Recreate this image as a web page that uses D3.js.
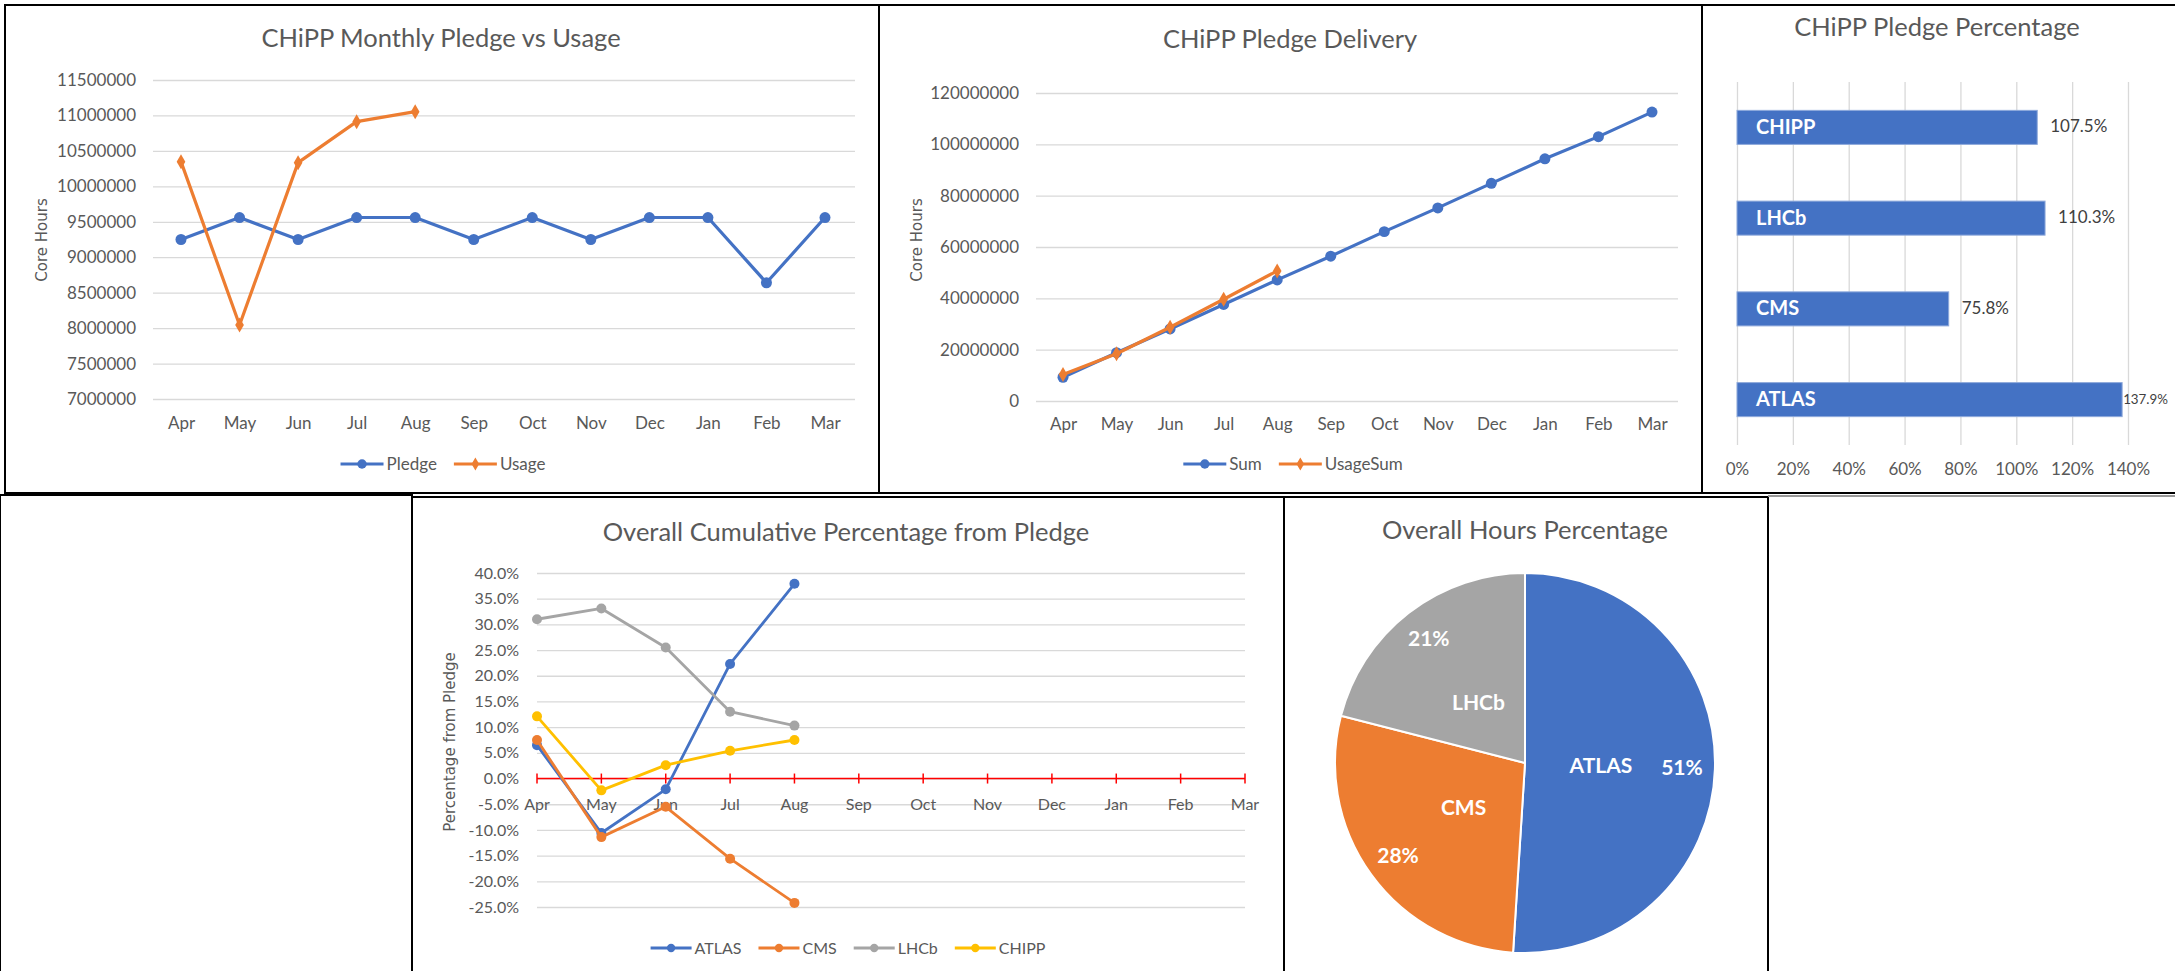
<!DOCTYPE html>
<html>
<head>
<meta charset="utf-8">
<script src="https://cdn.jsdelivr.net/npm/d3@7"></script>
<style>
  body { margin: 0; background: #fff; }
</style>
</head>
<body>
<svg id="canvas" width="2175" height="971"></svg>
<script>
// months of the financial year
let months = ['Apr', 'May', 'Jun', 'Jul', 'Aug', 'Sep', 'Oct', 'Nov', 'Dec', 'Jan', 'Feb', 'Mar'];

// monthly pledge vs usage (core hours)
let pledge = [9250000, 9560000, 9250000, 9560000, 9560000, 9250000, 9560000, 9250000, 9560000, 9560000, 8640000, 9560000];
let usage = [10348000, 8045000, 10334000, 10912000, 11053000];
let monthlyTicks = [7000000, 7500000, 8000000, 8500000, 9000000, 9500000, 10000000, 10500000, 11000000, 11500000];

// cumulative delivery
let pledgeSum = [9250000, 18810000, 28060000, 37620000, 47180000, 56430000, 65990000, 75240000, 84800000, 94360000, 103000000, 112560000];
let usageSum = [10348000, 18393000, 28727000, 39639000, 50692000];
let sumTicks = [0, 20000000, 40000000, 60000000, 80000000, 100000000, 120000000];

// pledge percentage per experiment
let experiments = ['CHIPP', 'LHCb', 'CMS', 'ATLAS'];
let pledgePct = [1.075, 1.103, 0.758, 1.379];
let pctTicks = [0, 0.2, 0.4, 0.6, 0.8, 1.0, 1.2, 1.4];

// cumulative percentage from pledge
let atlasPct = [0.065, -0.106, -0.021, 0.223, 0.379];
let cmsPct = [0.075, -0.114, -0.055, -0.156, -0.242];
let lhcbPct = [0.310, 0.331, 0.255, 0.130, 0.103];
let chippPct = [0.121, -0.023, 0.026, 0.054, 0.075];
let cumTicks = [-0.25, -0.2, -0.15, -0.1, -0.05, 0, 0.05, 0.1, 0.15, 0.2, 0.25, 0.3, 0.35, 0.4];

// overall hours share
let pieNames = ['ATLAS', 'CMS', 'LHCb'];
let pieShares = [0.51, 0.28, 0.21];

let blue = '#4472C4', orange = '#ED7D31', grey = '#A5A5A5', yellow = '#FFC000';
let gridColor = '#D9D9D9';
let textColor = '#595959';
let font = 'Lato, "Open Sans", sans-serif';

let svg = d3.select('#canvas');
svg.append('rect').attr('width', 2175).attr('height', 971).attr('fill', '#fff');

let locale = d3.formatLocale({ decimal: '.', thousands: ',', grouping: [3], currency: ['$', ''], minus: '-' });

let frame = (x, y, w, h) => {
  svg.append('rect')
    .attr('x', x).attr('y', y).attr('width', w).attr('height', h)
    .attr('fill', 'none').attr('stroke', '#000').attr('stroke-width', 2);
};

let title = (txt, cx, cy) => {
  svg.append('text')
    .attr('x', cx).attr('y', cy).attr('dy', '0.36em')
    .attr('text-anchor', 'middle')
    .attr('font-family', font).attr('font-size', 25.5)
    .attr('fill', textColor)
    .text(txt);
};

let yLabel = (txt, x, cy) => {
  svg.append('text')
    .attr('transform', `translate(${x},${cy}) rotate(-90)`)
    .attr('dy', '0.35em')
    .attr('text-anchor', 'middle')
    .attr('font-family', '"DejaVu Sans", sans-serif').attr('font-size', 15)
    .attr('fill', textColor)
    .text(txt);
};

let styleAxis = (a, fs) => {
  a.select('.domain').remove();
  a.selectAll('line').attr('stroke', gridColor).attr('stroke-width', 1.3);
  a.selectAll('text').attr('font-family', font).attr('font-size', fs).attr('fill', textColor);
};

let legend = (items, cx, cy, fs, len, gap) => {
  let lg = svg.append('g');
  let pos = 0;
  items.forEach((it) => {
    let item = lg.append('g').attr('transform', `translate(${pos},0)`);
    item.append('line')
      .attr('x1', 0).attr('x2', len)
      .attr('stroke', it.color).attr('stroke-width', 3);
    item.append('path')
      .attr('transform', `translate(${len / 2},0)`)
      .attr('d', d3.symbol(it.symbol, it.size)())
      .attr('fill', it.color);
    let t = item.append('text')
      .attr('x', len + 3).attr('dy', '0.35em')
      .attr('font-family', font).attr('font-size', fs)
      .attr('fill', textColor)
      .text(it.name);
    pos += len + 3 + t.node().getComputedTextLength() + gap;
  });
  pos -= gap;
  lg.attr('transform', `translate(${cx - pos / 2},${cy})`);
};

let drawLineChart = (o) => {
  let x = d3.scalePoint().domain(months).range(o.xRange);
  let y = d3.scaleLinear().domain(o.yDomain).range(o.yRange);

  svg.append('g')
    .attr('transform', `translate(${o.gridX[0]},0)`)
    .call(d3.axisLeft(y).tickValues(o.yTicks).tickFormat(d3.format('d'))
      .tickSize(-(o.gridX[1] - o.gridX[0])).tickPadding(17))
    .call((a) => styleAxis(a, 17));

  svg.append('g')
    .attr('transform', `translate(0,${o.xLabelY})`)
    .call(d3.axisBottom(x).tickSize(0).tickPadding(0))
    .call((a) => {
      styleAxis(a, 17);
      a.selectAll('text').attr('dy', '0.35em');
    });

  o.series.forEach((s) => {
    let line = d3.line()
      .x((d, i) => x(months[i]))
      .y((d) => y(d));
    svg.append('path')
      .datum(s.values)
      .attr('d', line)
      .attr('fill', 'none')
      .attr('stroke', s.color)
      .attr('stroke-width', 3.2)
      .attr('stroke-linejoin', 'round');
    svg.append('g').selectAll('path')
      .data(s.values)
      .enter()
      .append('path')
      .attr('transform', (d, i) => `translate(${x(months[i])},${y(d)})`)
      .attr('d', d3.symbol(s.symbol, s.size)())
      .attr('fill', s.color);
  });
};

// ---------- frames ----------
frame(5, 5, 874, 488);
frame(879, 5, 823, 488);
frame(1702, 5, 480, 488);
frame(0, 495, 412, 480);
frame(412, 497, 872, 480);
frame(1284, 497, 484, 480);
svg.append('line')
  .attr('x1', 1768).attr('x2', 2175).attr('y1', 496).attr('y2', 496)
  .attr('stroke', '#999').attr('stroke-width', 2);

// ---------- chart 1: monthly pledge vs usage ----------
title('CHiPP Monthly Pledge vs Usage', 441, 38);
yLabel('Core Hours', 42, 240);
drawLineChart({
  xRange: [181, 825],
  yDomain: [7000000, 11500000],
  yRange: [399, 80],
  gridX: [153, 855],
  yTicks: monthlyTicks,
  xLabelY: 423,
  series: [
    { values: pledge, color: blue, symbol: d3.symbolCircle, size: 95 },
    { values: usage, color: orange, symbol: d3.symbolDiamond, size: 65 }
  ]
});
legend([
  { name: 'Pledge', color: blue, symbol: d3.symbolCircle, size: 70 },
  { name: 'Usage', color: orange, symbol: d3.symbolDiamond, size: 50 }
], 443, 464, 17, 43, 17);

// ---------- chart 2: pledge delivery ----------
title('CHiPP Pledge Delivery', 1290, 39);
yLabel('Core Hours', 917, 240);
drawLineChart({
  xRange: [1063, 1652],
  yDomain: [0, 120000000],
  yRange: [401, 93],
  gridX: [1036, 1678],
  yTicks: sumTicks,
  xLabelY: 424,
  series: [
    { values: pledgeSum, color: blue, symbol: d3.symbolCircle, size: 95 },
    { values: usageSum, color: orange, symbol: d3.symbolDiamond, size: 65 }
  ]
});
legend([
  { name: 'Sum', color: blue, symbol: d3.symbolCircle, size: 70 },
  { name: 'UsageSum', color: orange, symbol: d3.symbolDiamond, size: 50 }
], 1293, 464, 17, 43, 17);

// ---------- chart 3: pledge percentage ----------
title('CHiPP Pledge Percentage', 1937, 27);
let bx = d3.scaleLinear().domain([0, 1.4]).range([1737, 2128]);
let by = d3.scaleBand().domain(experiments).range([82, 445])
  .paddingInner(0.625).paddingOuter(0.3125);

svg.append('g')
  .attr('transform', 'translate(0,445)')
  .call(d3.axisBottom(bx).tickValues(pctTicks).tickFormat(d3.format('.0%'))
    .tickSize(-(445 - 82)).tickPadding(18))
  .call((a) => styleAxis(a, 17));

let bars = svg.append('g').selectAll('g')
  .data(experiments)
  .enter()
  .append('g');
bars.append('rect')
  .attr('x', bx(0))
  .attr('y', (d) => by(d))
  .attr('width', (d, i) => bx(pledgePct[i]) - bx(0))
  .attr('height', by.bandwidth())
  .attr('fill', blue)
  .attr('stroke', '#8EA9DB').attr('stroke-width', 1);
bars.append('text')
  .attr('x', bx(0) + 19)
  .attr('y', (d) => by(d) + by.bandwidth() / 2)
  .attr('dy', '0.33em')
  .attr('font-family', font).attr('font-size', 20).attr('font-weight', 'bold')
  .attr('fill', '#fff')
  .text((d) => d);
bars.append('text')
  .attr('y', (d) => by(d) + by.bandwidth() / 2)
  .attr('dy', '0.3em')
  .attr('font-family', font).attr('font-size', 17)
  .attr('fill', '#404040')
  .text((d, i) => d3.format('.1%')(pledgePct[i]))
  .each(function (d, i) {
    // the longest bar's label sits tight to the bar and is shrunk to stay on the page
    let label = d3.select(this);
    let end = bx(pledgePct[i]);
    let w = this.getComputedTextLength();
    let room = 2168 - end;
    if (w + 13 <= room) {
      label.attr('x', end + 13);
    } else {
      label.attr('x', end + 1);
      if (w + 1 > room) label.attr('font-size', 17 * (room - 1) / w);
    }
  });

// ---------- chart 4: overall cumulative percentage ----------
title('Overall Cumulative Percentage from Pledge', 846, 532);
yLabel('Percentage from Pledge', 450, 742);
let cx4 = d3.scalePoint().domain(months).range([537, 1245]);
let cy4 = d3.scaleLinear().domain([-0.25, 0.4]).range([907, 573]);

svg.append('g')
  .attr('transform', 'translate(537,0)')
  .call(d3.axisLeft(cy4).tickValues(cumTicks).tickFormat(locale.format('.1%'))
    .tickSize(-(1245 - 537)).tickPadding(18))
  .call((a) => styleAxis(a, 16));

svg.append('line')
  .attr('x1', cx4.range()[0]).attr('x2', cx4.range()[1])
  .attr('y1', cy4(0)).attr('y2', cy4(0))
  .attr('stroke', '#FF0000').attr('stroke-width', 1.5);
svg.append('g').selectAll('line')
  .data(months)
  .enter()
  .append('line')
  .attr('x1', (d) => cx4(d)).attr('x2', (d) => cx4(d))
  .attr('y1', cy4(0) - 5).attr('y2', cy4(0) + 5)
  .attr('stroke', '#FF0000').attr('stroke-width', 1.5);
svg.append('g').selectAll('text')
  .data(months)
  .enter()
  .append('text')
  .attr('x', (d) => cx4(d))
  .attr('y', 804)
  .attr('dy', '0.35em')
  .attr('text-anchor', 'middle')
  .attr('font-family', font).attr('font-size', 16)
  .attr('fill', textColor)
  .text((d) => d);

let cumSeries = [
  { name: 'ATLAS', values: atlasPct, color: blue },
  { name: 'CMS', values: cmsPct, color: orange },
  { name: 'LHCb', values: lhcbPct, color: grey },
  { name: 'CHIPP', values: chippPct, color: yellow }
];
cumSeries.forEach((s) => {
  let line = d3.line()
    .x((d, i) => cx4(months[i]))
    .y((d) => cy4(d));
  svg.append('path')
    .datum(s.values)
    .attr('d', line)
    .attr('fill', 'none')
    .attr('stroke', s.color)
    .attr('stroke-width', 2.8)
    .attr('stroke-linejoin', 'round');
  svg.append('g').selectAll('circle')
    .data(s.values)
    .enter()
    .append('circle')
    .attr('cx', (d, i) => cx4(months[i]))
    .attr('cy', (d) => cy4(d))
    .attr('r', 5)
    .attr('fill', s.color);
});
legend(cumSeries.map((s) => ({ name: s.name, color: s.color, symbol: d3.symbolCircle, size: 55 })),
  848, 948, 16, 41, 17);

// ---------- chart 5: overall hours percentage ----------
title('Overall Hours Percentage', 1525, 530);
let pie = d3.pie().sort(null).value((d) => d);
let arcs = pie(pieShares);
let radius = 190;
let arc = d3.arc().innerRadius(0).outerRadius(radius);
let nameArc = d3.arc().innerRadius(76).outerRadius(76);
let pctArc = d3.arc().innerRadius(157).outerRadius(157);
let pieColors = [blue, orange, grey];

let pg = svg.append('g').attr('transform', 'translate(1525,763)');
pg.selectAll('path')
  .data(arcs)
  .enter()
  .append('path')
  .attr('d', arc)
  .attr('fill', (d, i) => pieColors[i])
  .attr('stroke', '#fff')
  .attr('stroke-width', 2);
pg.selectAll('text.name')
  .data(arcs)
  .enter()
  .append('text')
  .attr('class', 'name')
  .attr('transform', (d) => `translate(${nameArc.centroid(d)})`)
  .attr('dy', '0.35em')
  .attr('text-anchor', 'middle')
  .attr('font-family', font).attr('font-size', 21).attr('font-weight', 'bold')
  .attr('fill', '#fff')
  .text((d, i) => pieNames[i]);
pg.selectAll('text.pct')
  .data(arcs)
  .enter()
  .append('text')
  .attr('class', 'pct')
  .attr('transform', (d) => `translate(${pctArc.centroid(d)})`)
  .attr('dy', '0.35em')
  .attr('text-anchor', 'middle')
  .attr('font-family', font).attr('font-size', 21).attr('font-weight', 'bold')
  .attr('fill', '#fff')
  .text((d) => d3.format('.0%')(d.data));
</script>
</body>
</html>
